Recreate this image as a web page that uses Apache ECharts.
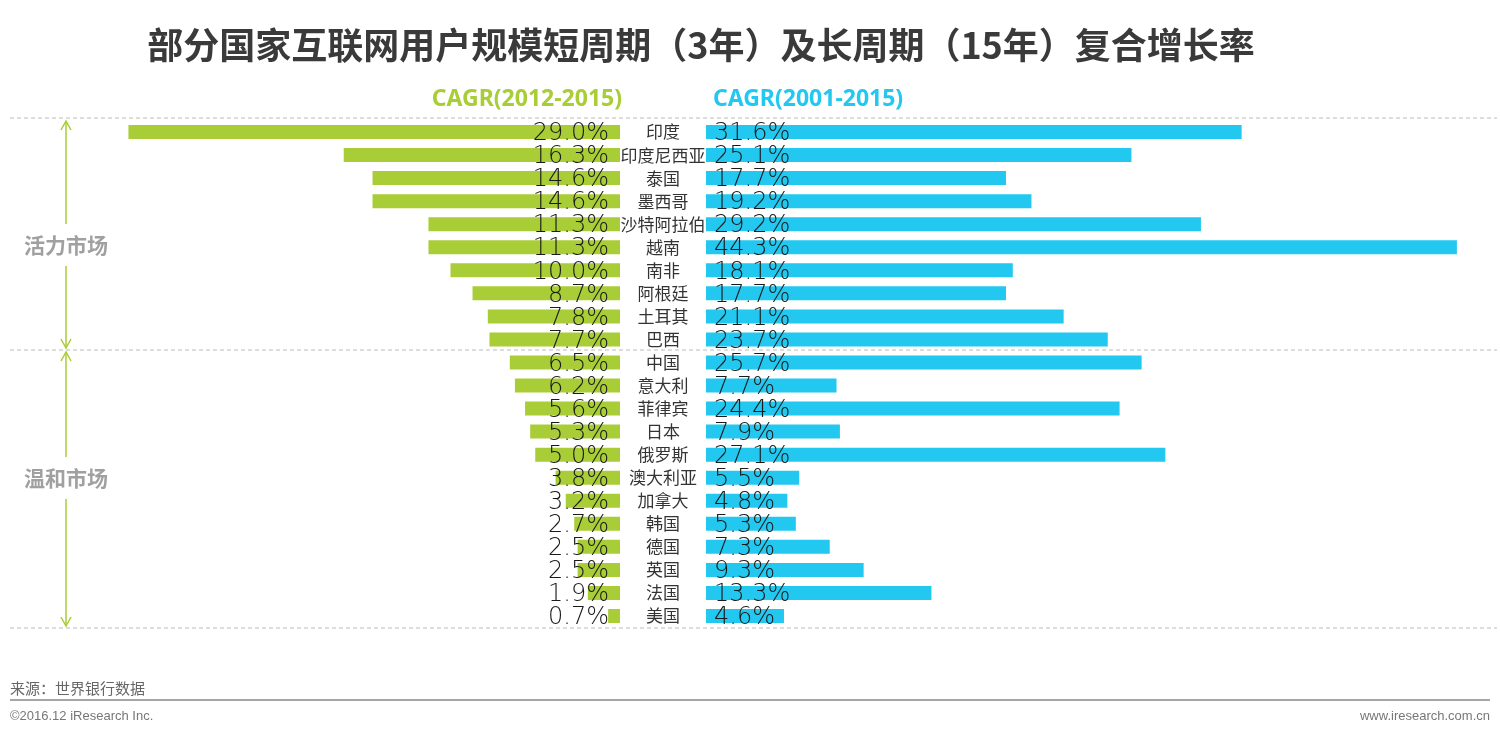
<!DOCTYPE html>
<html>
<head>
<meta charset="utf-8">
<script src="https://cdn.jsdelivr.net/npm/echarts@6/dist/echarts.min.js"></script>
<style>
html,body{margin:0;padding:0;background:#fff;}
#main{width:1500px;height:738px;}
</style>
</head>
<body>
<div id="main"></div>
<script>
const countries = ['印度','印度尼西亚','泰国','墨西哥','沙特阿拉伯','越南','南非','阿根廷','土耳其','巴西','中国','意大利','菲律宾','日本','俄罗斯','澳大利亚','加拿大','韩国','德国','英国','法国','美国'];
const cagrShort = [29.0,16.3,14.6,14.6,11.3,11.3,10.0,8.7,7.8,7.7,6.5,6.2,5.6,5.3,5.0,3.8,3.2,2.7,2.5,2.5,1.9,0.7];
const cagrLong = [31.6,25.1,17.7,19.2,29.2,44.3,18.1,17.7,21.1,23.7,25.7,7.7,24.4,7.9,27.1,5.5,4.8,5.3,7.3,9.3,13.3,4.6];
const seriesNames = ['CAGR(2012-2015)','CAGR(2001-2015)'];
const groupNames = ['活力市场','温和市场'];
const titleText = '部分国家互联网用户规模短周期（3年）及长周期（15年）复合增长率';
const sourceText = '来源：世界银行数据';
const copyrightText = '©2016.12 iResearch Inc.';
const siteText = 'www.iresearch.com.cn';

const GREEN = '#A8CD36';
const BLUE = '#22C8F0';
const CJK = '"Noto Sans CJK SC", "Noto Sans", sans-serif';
const NUMF = '"DejaVu Sans", sans-serif';

const chart = echarts.init(document.getElementById('main'));

const labelStyle = {
  show: true,
  fontFamily: NUMF,
  fontWeight: 200,
  fontSize: 24,
  color: '#1a1a1a',
  offset: [0, 2],
  formatter: p => p.value.toFixed(1) + '%'
};

function hline(y) {
  return {type:'line', shape:{x1:10,y1:y,x2:1497,y2:y}, style:{stroke:'#BBBBBB', lineWidth:1, lineDash:[4,3]}, silent:true};
}
function vline(y1,y2) {
  return {type:'line', shape:{x1:66,y1:y1,x2:66,y2:y2}, style:{stroke:GREEN, lineWidth:1.5}, silent:true};
}
function arrowUp(y) {
  return {type:'polyline', shape:{points:[[61,y+9],[66,y],[71,y+9]]}, style:{stroke:GREEN, lineWidth:1.5, fill:null}, silent:true};
}
function arrowDown(y) {
  return {type:'polyline', shape:{points:[[61,y-9],[66,y],[71,y-9]]}, style:{stroke:GREEN, lineWidth:1.5, fill:null}, silent:true};
}

const option = {
  backgroundColor: '#fff',
  animation: false,
  title: {
    text: titleText,
    left: 696, top: 22, textAlign: 'center',
    textStyle: {fontFamily: CJK, fontWeight: 'bold', fontSize: 36, color: '#3a3a3a'}
  },
  grid: [
    {left: 111.5, width: 508.5, top: 120.5, height: 507},
    {left: 706, width: 762.75, top: 120.5, height: 507}
  ],
  xAxis: [
    {gridIndex:0, type:'value', min:0, max:30, inverse:true, show:false},
    {gridIndex:1, type:'value', min:0, max:45, show:false}
  ],
  yAxis: [
    {gridIndex:0, type:'category', data:countries, inverse:true, position:'right',
     axisLine:{show:false}, axisTick:{show:false}, splitLine:{show:false},
     axisLabel:{show:true, align:'center', margin:43, fontFamily:CJK, fontSize:17, color:'#333'}},
    {gridIndex:1, type:'category', data:countries, inverse:true, show:false}
  ],
  series: [
    {name: seriesNames[0], type:'bar', xAxisIndex:0, yAxisIndex:0, data: cagrShort,
     barWidth: 14, itemStyle:{color: GREEN},
     label: Object.assign({position:'insideRight', distance:11}, labelStyle)},
    {name: seriesNames[1], type:'bar', xAxisIndex:1, yAxisIndex:1, data: cagrLong,
     barWidth: 14, itemStyle:{color: BLUE},
     label: Object.assign({position:'insideLeft', distance:8}, labelStyle)}
  ],
  graphic: [
    {type:'text', x:622, y:99, style:{text: seriesNames[0], align:'right', verticalAlign:'middle', font:'bold 23px "Noto Sans", sans-serif', fill: GREEN}},
    {type:'text', x:713, y:99, style:{text: seriesNames[1], align:'left', verticalAlign:'middle', font:'bold 23px "Noto Sans", sans-serif', fill: BLUE}},
    hline(118), hline(350), hline(628),
    vline(121, 224), vline(266, 348), arrowUp(121), arrowDown(348),
    vline(352, 457), vline(499, 626), arrowUp(352), arrowDown(626),
    {type:'text', x:66, y:245, style:{text: groupNames[0], align:'center', verticalAlign:'middle', font:'bold 21px "Noto Sans CJK SC", sans-serif', fill:'#A0A0A0'}},
    {type:'text', x:66, y:478, style:{text: groupNames[1], align:'center', verticalAlign:'middle', font:'bold 21px "Noto Sans CJK SC", sans-serif', fill:'#A0A0A0'}},
    {type:'text', x:10, y:688, style:{text: sourceText, align:'left', verticalAlign:'middle', font:'15px "Noto Sans CJK SC", sans-serif', fill:'#666'}},
    {type:'line', shape:{x1:10,y1:700,x2:1490,y2:700}, style:{stroke:'#888', lineWidth:1.5}, silent:true},
    {type:'text', x:10, y:716, style:{text: copyrightText, align:'left', verticalAlign:'middle', font:'13px "Liberation Sans", sans-serif', fill:'#777'}},
    {type:'text', x:1490, y:716, style:{text: siteText, align:'right', verticalAlign:'middle', font:'13px "Liberation Sans", sans-serif', fill:'#777'}}
  ]
};
chart.setOption(option);
</script>
</body>
</html>
